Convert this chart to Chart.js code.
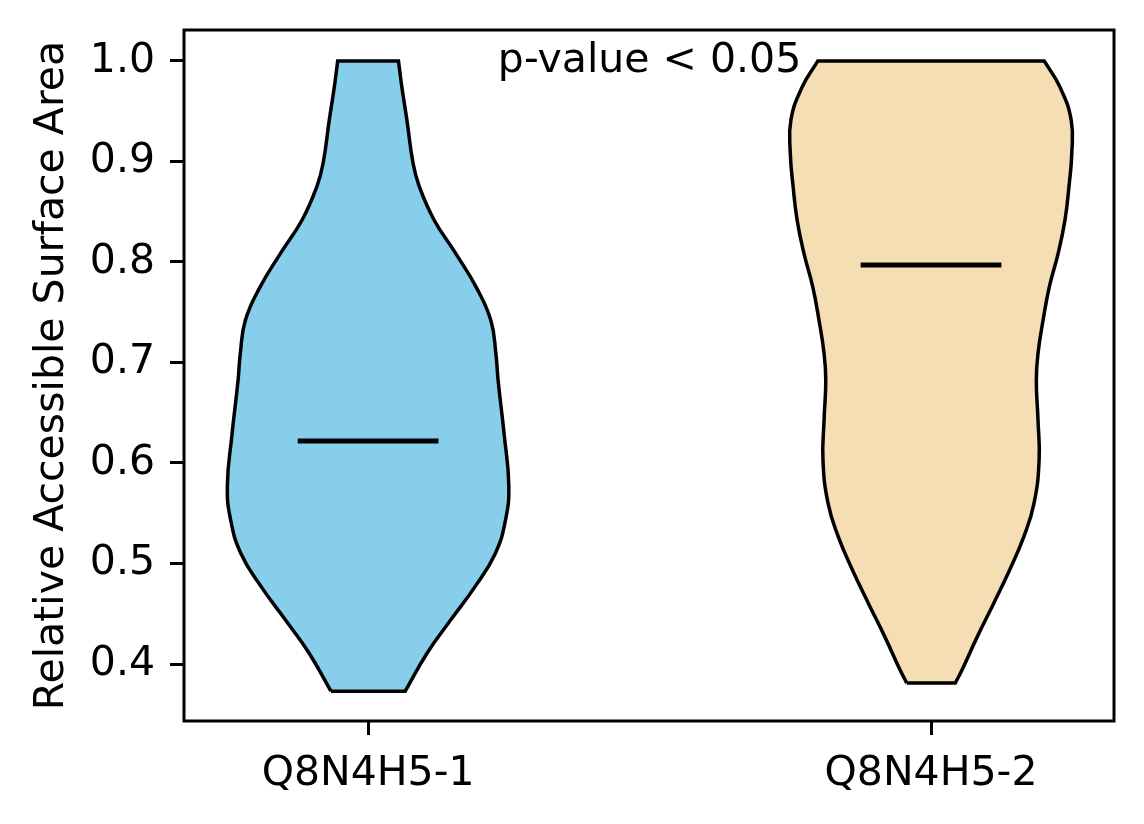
<!DOCTYPE html>
<html>
<head>
<meta charset="utf-8">
<script src="https://cdn.jsdelivr.net/npm/chart.js@4/dist/chart.umd.min.js"></script>
<style>
html, body { margin: 0; padding: 0; background: #fff; }
#wrap { width: 1144px; height: 824px; }
</style>
</head>
<body>
<div id="wrap"><canvas id="chart" width="1144" height="824"></canvas></div>
<script>
// categories and where they sit on the x axis
var categories = ['Q8N4H5-1', 'Q8N4H5-2'];
var positions = [1, 2];
var fillColors = ['#87ceeb', '#f5deb3'];

// violin outlines: y values and half widths (x units)
var violin1Y = [0.373, 0.411, 0.444, 0.477, 0.510, 0.543, 0.577, 0.627, 0.682, 0.709, 0.742, 0.775, 0.809, 0.842, 0.875, 0.898, 0.941, 0.974, 1.000];
var violin1Half = [0.066, 0.105, 0.147, 0.190, 0.226, 0.244, 0.250, 0.242, 0.231, 0.227, 0.218, 0.192, 0.155, 0.117, 0.091, 0.080, 0.069, 0.060, 0.054];
var violin2Y = [0.381, 0.394, 0.427, 0.460, 0.494, 0.527, 0.560, 0.603, 0.643, 0.682, 0.709, 0.742, 0.775, 0.809, 0.842, 0.875, 0.908, 0.941, 0.974, 1.000];
var violin2Half = [0.043, 0.055, 0.082, 0.111, 0.140, 0.165, 0.183, 0.192, 0.190, 0.187, 0.190, 0.199, 0.210, 0.226, 0.238, 0.245, 0.250, 0.249, 0.229, 0.201];

// medians and half length of the median bar
var medians = [0.622, 0.797];
var medianHalf = 0.125;

// axes
var yTicks = [0.4, 0.5, 0.6, 0.7, 0.8, 0.9, 1.0];
var yRange = [0.3433, 1.0308];
var xRange = [0.673, 2.325];
var yTitle = 'Relative Accessible Surface Area';

// annotation
var pText = 'p-value < 0.05';
var pPos = [1.5, 1.0];

/*
* build a closed outline: left side bottom->top, right side top->bottom.
* corners are pushed twice so the spline keeps them sharp
*/
function outline(pos, ys, half) {
    var pts = [];
    var n = ys.length;
    for (var i = 0; i < n; i++) {
        pts.push({x: pos - half[i], y: ys[i]});
    }
    pts.push({x: pos - half[n - 1], y: ys[n - 1]});
    pts.push({x: pos + half[n - 1], y: ys[n - 1]});
    for (var j = n - 1; j >= 0; j--) {
        pts.push({x: pos + half[j], y: ys[j]});
    }
    pts.push({x: pos + half[0], y: ys[0]});
    pts.push({x: pos - half[0], y: ys[0]});
    pts.push({x: pos - half[0], y: ys[0]});
    return pts;
}

var datasets = [];
var violinYs = [violin1Y, violin2Y];
var violinHalves = [violin1Half, violin2Half];
for (var k = 0; k < positions.length; k++) {
    // median bar on top
    datasets.push({
        data: [{x: positions[k] - medianHalf, y: medians[k]}, {x: positions[k] + medianHalf, y: medians[k]}],
        borderColor: '#000',
        borderWidth: 5,
        pointRadius: 0,
        fill: false,
        order: 0
    });
    datasets.push({
        data: outline(positions[k], violinYs[k], violinHalves[k]),
        borderColor: '#000',
        borderWidth: 3.5,
        backgroundColor: fillColors[k],
        pointRadius: 0,
        tension: 0.45,
        fill: 'shape',
        order: 1
    });
}

// frame + p-value text
var framePlugin = {
    id: 'frame',
    afterDatasetsDraw: function(chart) {
        var ctx = chart.ctx;
        var a = chart.chartArea;
        var xs = chart.scales.x, ys = chart.scales.y;
        ctx.save();
        ctx.lineWidth = 3;
        ctx.strokeStyle = '#000';
        ctx.strokeRect(a.left, a.top, a.right - a.left, a.bottom - a.top);
        ctx.fillStyle = '#000';
        ctx.font = '41px "DejaVu Sans"';
        ctx.textAlign = 'center';
        ctx.textBaseline = 'middle';
        ctx.fillText(pText, xs.getPixelForValue(pPos[0]), ys.getPixelForValue(pPos[1]));
        ctx.restore();
    }
};

Chart.defaults.font.family = '"DejaVu Sans"';
Chart.defaults.font.size = 41;
Chart.defaults.color = '#000';

var chart = new Chart(document.getElementById('chart'), {
    type: 'line',
    data: {datasets: datasets},
    plugins: [framePlugin],
    options: {
        responsive: false,
        animation: false,
        devicePixelRatio: 1,
        layout: {padding: {top: 30, right: 30, left: 0, bottom: 0}},
        plugins: {legend: {display: false}, tooltip: {enabled: false}},
        scales: {
            x: {
                type: 'linear',
                min: xRange[0],
                max: xRange[1],
                border: {display: false},
                grid: {drawOnChartArea: false, drawTicks: true, tickLength: 14, tickWidth: 3, tickColor: '#000'},
                ticks: {
                    padding: 15,
                    autoSkip: false,
                    maxRotation: 0,
                    callback: function(v) { return categories[positions.indexOf(v)]; }
                },
                afterBuildTicks: function(s) {
                    s.ticks = positions.map(function(p) { return {value: p}; });
                },
                afterFit: function(s) {
                    s.height = 103;
                    s.paddingLeft = 0;
                    s.paddingRight = 0;
                }
            },
            y: {
                type: 'linear',
                min: yRange[0],
                max: yRange[1],
                border: {display: false},
                grid: {drawOnChartArea: false, drawTicks: true, tickLength: 14, tickWidth: 3, tickColor: '#000'},
                ticks: {
                    padding: 15,
                    callback: function(v) { return v.toFixed(1); }
                },
                title: {display: true, text: yTitle, padding: {top: 28, bottom: 0}},
                afterBuildTicks: function(s) {
                    s.ticks = yTicks.map(function(t) { return {value: t}; });
                },
                afterFit: function(s) {
                    s.width = 184;
                    s.paddingTop = 0;
                    s.paddingBottom = 0;
                }
            }
        }
    }
});
</script>
</body>
</html>
